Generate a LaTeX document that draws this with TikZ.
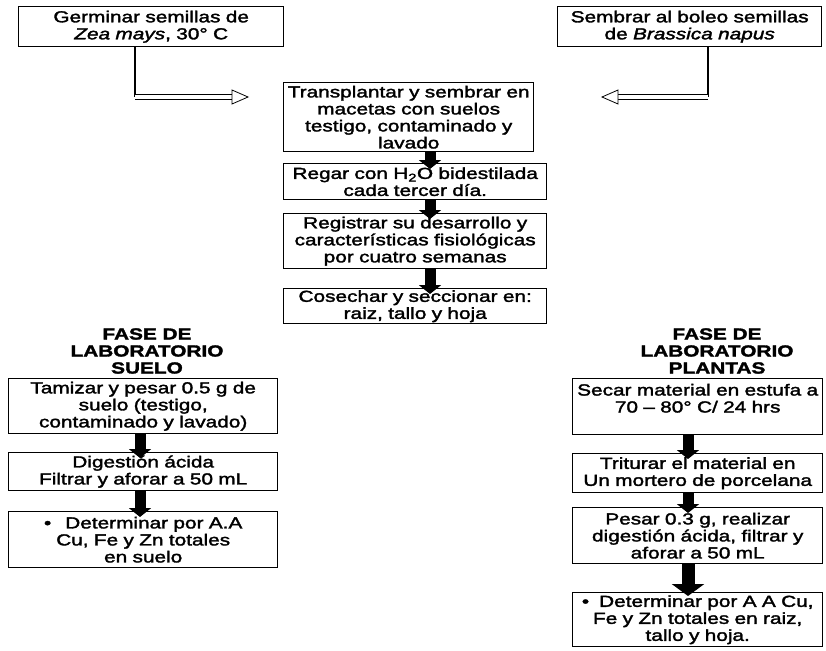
\documentclass[tikz,border=0pt]{standalone}
\usepackage{fontspec}
\setmainfont{Liberation Sans}[FakeStretch=1.3,FakeBold=2]
\usetikzlibrary{arrows.meta,calc}

\begin{document}
\begin{tikzpicture}[x=1pt,y=1pt,
            every node/.style={font=\fontsize{16}{17}\selectfont},
            box/.style={draw,line width=1.4pt,align=center,anchor=north west,inner xsep=2pt,inner ysep=1pt},
            title/.style={font=\fontsize{16}{17}\selectfont\bfseries,align=center},
            block arrow/.style={line width=11pt,-{Triangle[width=22pt,length=9pt]},shorten >=-6pt},
            big block arrow/.style={line width=13pt,-{Triangle[width=32pt,length=12pt]},shorten >=-4pt},
            shaft/.style={double,double distance=4pt,line width=0.8pt},
            ]
            \useasboundingbox (0,0) rectangle (826,-650);

            % siembra
            \node[box, text width=261pt, minimum height=40pt] (germinar) at (18,-6) {Germinar semillas de\\\textit{Zea mays}, 30° C};
            \node[box, text width=260pt, minimum height=40pt] (sembrar) at (557,-6) {Sembrar al boleo semillas\\de \textit{Brassica napus}};

            % fase de invernadero
            \node[box, text width=246pt, minimum height=69pt] (transplantar) at (283,-82) {Transplantar y sembrar en\\macetas con suelos\\testigo, contaminado y\\lavado};
            \node[box, text width=259pt, minimum height=36pt] (regar) at (283,-163) {Regar con H\textsubscript{2}O bidestilada\\cada tercer día.};
            \node[box, text width=259pt, minimum height=55pt] (registrar) at (283,-213) {Registrar su desarrollo y\\características fisiológicas\\por cuatro semanas};
            \node[box, text width=259pt, minimum height=35pt] (cosechar) at (283,-288) {Cosechar y seccionar en:\\raiz, tallo y hoja};

            % laboratorio suelo
            \node[title] (fase suelo) at (147,-351) {FASE DE\\LABORATORIO\\SUELO};
            \node[box, text width=265pt, minimum height=55pt] (tamizar) at (8,-378) {Tamizar y pesar 0.5 g de\\suelo (testigo,\\contaminado y lavado)};
            \node[box, text width=265pt, minimum height=38pt] (digestion) at (8,-452) {Digestión ácida\\Filtrar y aforar a 50 mL};
            \node[box, text width=265pt, minimum height=56pt] (det suelo) at (8,-511) {•\hspace{14pt}Determinar por A.A\\Cu, Fe y Zn totales\\en suelo};

            % laboratorio plantas
            \node[title] (fase plantas) at (717,-351) {FASE DE\\LABORATORIO\\PLANTAS};
            \node[box, text width=246pt, minimum height=56pt] (secar) at (572,-378) {Secar material en estufa a\\70 – 80° C/ 24 hrs\\\mbox{}};
            \node[box, text width=246pt, minimum height=39pt] (triturar) at (572,-453) {Triturar el material en\\Un mortero de porcelana};
            \node[box, text width=246pt, minimum height=56pt] (pesar) at (572,-507) {Pesar 0.3 g, realizar\\digestión ácida, filtrar y\\aforar a 50 mL};
            \node[box, text width=246pt, minimum height=54pt] (det planta) at (572,-592) {•\hspace{10pt}Determinar por A A Cu,\\Fe y Zn totales en raiz,\\tallo y hoja.};

            % flechas huecas
            \coordinate (bend1) at (135,-97);
            \coordinate (tip1) at (248,-97);
            \coordinate (bend2) at (708,-97);
            \coordinate (tip2) at (602,-97);
            \draw[line width=1.2pt] (germinar.south -| bend1) -- (bend1);
            \draw[line width=1.2pt] (sembrar.south -| bend2) -- (bend2);
            \draw[shaft] (bend1) -- ($(tip1)+(-16,0)$);
            \draw[line width=0.8pt,fill=white] (tip1) -- ++(-16,7) -- ++(0,-14) -- cycle;
            \draw[shaft] (bend2) -- ($(tip2)+(16,0)$);
            \draw[line width=0.8pt,fill=white] (tip2) -- ++(16,7) -- ++(0,-14) -- cycle;

            % flechas gruesas
            \coordinate (mid) at (430,0);
            \coordinate (left) at (140,0);
            \coordinate (right) at (688,0);
            \foreach \a/\b in {transplantar/regar,regar/registrar,registrar/cosechar}
                \draw[block arrow] (\a.south -| mid) -- (\b.north -| mid);
            \foreach \a/\b in {tamizar/digestion,digestion/det suelo}
                \draw[block arrow] (\a.south -| left) -- (\b.north -| left);
            \foreach \a/\b in {secar/triturar,triturar/pesar}
                \draw[block arrow] (\a.south -| right) -- (\b.north -| right);
            \draw[big block arrow] (pesar.south -| right) -- (det planta.north -| right);
        \end{tikzpicture}
\end{document}
